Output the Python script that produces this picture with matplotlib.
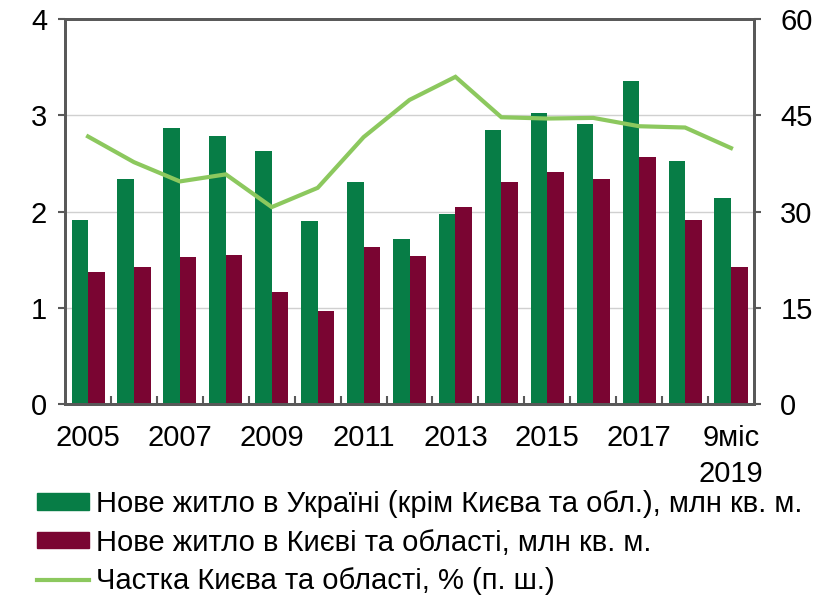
import matplotlib.pyplot as plt
import numpy as np
from matplotlib.lines import Line2D
from matplotlib.patches import Patch

plt.rcParams['font.family'] = ['Liberation Sans', 'DejaVu Sans']

years = ['2005', '2006', '2007', '2008', '2009', '2010', '2011', '2012',
         '2013', '2014', '2015', '2016', '2017', '2018', '9міс\n2019']
ukraine = [1.91, 2.34, 2.87, 2.79, 2.63, 1.90, 2.31, 1.72,
           1.98, 2.85, 3.02, 2.91, 3.36, 2.53, 2.14]
kyiv = [1.37, 1.42, 1.53, 1.55, 1.16, 0.97, 1.63, 1.54,
        2.05, 2.31, 2.41, 2.34, 2.57, 1.91, 1.42]
share = [41.7, 37.7, 34.7, 35.8, 30.7, 33.7, 41.6, 47.4,
         51.0, 44.7, 44.5, 44.6, 43.3, 43.1, 39.9]

c_green = '#077d46'
c_red = '#7a0532'
c_line = '#8cc85e'
c_spine = '#595959'
fs = 21

fig = plt.figure(figsize=(8.24, 5.96), dpi=100)
ax = fig.add_axes([0.079, 0.322, 0.836, 0.646])
ax2 = ax.twinx()

x = np.arange(len(years))
w = 0.36
ax.bar(x - w / 2, ukraine, w, color=c_green, zorder=2)
ax.bar(x + w / 2, kyiv, w, color=c_red, zorder=2)
ax2.plot(x, share, color=c_line, lw=3, solid_joinstyle='miter')

ax.set_xlim(-0.5, len(years) - 0.5)
ax.set_ylim(0, 4)
ax2.set_ylim(0, 60)
ax.set_yticks([0, 1, 2, 3, 4])
ax2.set_yticks([0, 15, 30, 45, 60])
ax.yaxis.grid(True, color='#d0d0d0', lw=1, zorder=0)
ax.set_axisbelow(True)

ax.set_xticks(x[::2])
ax.set_xticklabels([years[i] for i in range(0, len(years), 2)], linespacing=1.4)
ax.set_xticks(np.arange(0.5, len(years) - 1, 1), minor=True)
ax.tick_params(axis='x', which='major', length=0, pad=14, labelsize=fs)
ax.tick_params(axis='x', which='minor', direction='in', length=6,
               width=1.5, color=c_spine)
ax.tick_params(axis='y', length=5, width=1.5, color=c_spine, labelsize=fs, pad=8)
ax2.tick_params(axis='y', length=5, width=1.5, color=c_spine, labelsize=fs, pad=14)

for a in (ax, ax2):
    for s in a.spines.values():
        s.set_color(c_spine)
        s.set_linewidth(2)

handles = [Patch(color=c_green), Patch(color=c_red),
           Line2D([0], [0], color=c_line, lw=3)]
labels = ['Нове житло в Україні (крім Києва та обл.), млн кв. м.',
          'Нове житло в Києві та області, млн кв. м.',
          'Частка Києва та області, % (п. ш.)']
fig.legend(handles, labels, loc='upper left', bbox_to_anchor=(0.045, 0.178),
           frameon=False, fontsize=fs, handlelength=1.78, handleheight=0.48,
           handletextpad=0.24, labelspacing=0.37, borderaxespad=0, borderpad=0)

fig.savefig('out.png', dpi=100)
